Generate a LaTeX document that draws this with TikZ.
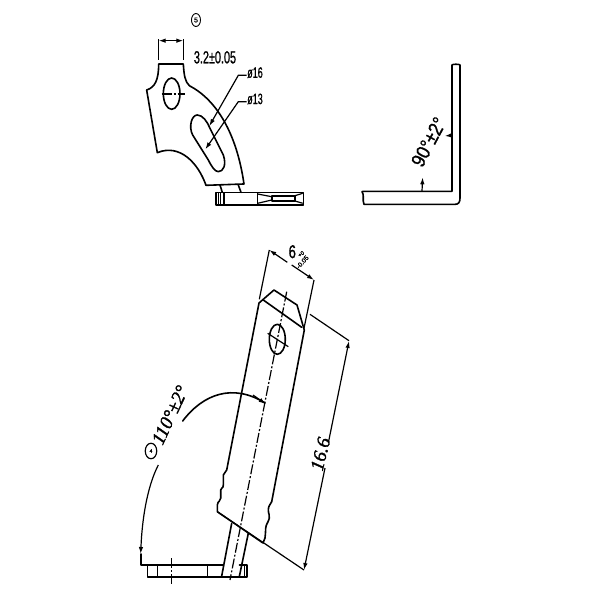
\documentclass[tikz,border=0pt]{standalone}
\usepackage{fontspec}
\setmainfont{Liberation Sans}[RawFeature={embolden=1.2}]
\newfontfamily\serifit{Liberation Serif Italic}[RawFeature={embolden=1.6}]
\usetikzlibrary{arrows.meta,shapes.geometric}
\tikzset{
 ln/.style={line width=1.6pt,black,line join=round,line cap=round},
 thin line/.style={line width=1.2pt,black},
 cen/.style={line width=1.2pt,black,dash pattern=on 10pt off 2pt on 2pt off 2pt},
 dim/.style={line width=1.2pt,black,-{Latex[length=7pt,width=4.5pt]}},
 dimb/.style={line width=1.2pt,black,{Latex[length=7pt,width=4.5pt]}-{Latex[length=7pt,width=4.5pt]}},
 lab/.style={inner sep=0pt,black},
 zoomA/.style={shift={(120pt,0pt)},x=0.3333pt,y=-0.3333pt},
 zoomB/.style={shift={(350pt,-50pt)},x=0.3333pt,y=-0.3333pt},
}
\begin{document}
\begin{tikzpicture}[x=1pt,y=-1pt]
\useasboundingbox (0,0) rectangle (600,600);
\fill[white] (0,0) rectangle (600,600);
% top left view
\begin{scope}[zoomA]
\draw[ln] (116,192) -- (190,192) .. controls (192,225) and (195,245) .. (208,257)
  .. controls (290,300) and (350,400) .. (372,552) -- (258,556)
  .. controls (235,490) and (180,430) .. (112,458) -- (80,270)
  .. controls (105,262) and (116,240) .. (116,192) -- cycle;
\draw[ln] (155,281) ellipse [x radius=25,y radius=47];
\draw[cen] (125,282) -- (195,282);
\draw[ln] (218,405) .. controls (205,380) and (215,345) .. (232,345)
  .. controls (248,345) and (262,365) .. (270,385) -- (310,465)
  .. controls (320,495) and (310,515) .. (295,515)
  .. controls (285,515) and (275,500) .. (265,480) -- cycle;
\draw[thin line] (116,180) -- (116,118);
\draw[thin line] (190,180) -- (190,118);
\draw[dimb] (116,122) -- (190,122);
\node[lab,draw,ellipse,line width=0.9pt,minimum width=9pt,minimum height=13pt,font=\fontsize{7}{7}\selectfont] (mark5) at (228,60) {5};
\node[lab,xscale=.62,font=\fontsize{17.5}{18}\selectfont] (tol) at (285,172) {3.2±0.05};
\node[lab,xscale=.6,font=\fontsize{15}{15}\selectfont] (d16) at (405,218) {ø16};
\node[lab,xscale=.6,font=\fontsize{15}{15}\selectfont] (d13) at (405,297) {ø13};
\draw[dim] (380,226) -- (355,226) -- (268,378);
\draw[dim] (380,305) -- (355,305) -- (256,448);
\end{scope}
% side strip under the top-left view
\draw[ln] (220,185) -- (222.3,192.3);
\draw[ln] (238.3,185) -- (241,192.3);
\draw[ln] (216,192.3) rectangle (303.3,205);
\draw[thin line] (218.3,192.3) -- (218.3,205) (220.7,192.3) -- (220.7,205) (224,192.3) -- (224,205);
\draw[thin line] (257.7,192.3) -- (257.7,205);
\draw[thin line] (257.7,194) -- (271.7,196.7) -- (271.7,200) -- (257.7,203.3);
\draw[ln] (271.7,195.7) -- (295,195.7) -- (295,201) -- (271.7,201) -- cycle;
\draw[thin line] (295,195.7) -- (302.7,193.3) (295,201) -- (302.7,203.3);
% top right view
\begin{scope}[zoomB]
\draw[ln] (40,424) -- (306,424) -- (306,45) .. controls (306,42) and (330,42) .. (330,45)
  -- (330,445) .. controls (330,458) and (325,463) .. (315,463) -- (42,463)
  .. controls (36,450) and (44,435) .. (36,425) -- (40,424);
\draw[dim] (216,424) -- (218,382);
\draw[dim] (306,256) -- (284,258);
\node[lab,rotate=62,xscale=.87,font=\fontsize{20}{20}\selectfont] (ang90) at (236,276) {90°±2°};
\end{scope}
% lower view: bent tab
\draw[ln] (259,303) -- (274,290) -- (297,305) -- (304.3,330) -- (271.7,501.7)
  .. controls (270,505) and (268.3,506) .. (268.3,510)
  .. controls (268.3,514) and (270,515) .. (269.3,518.3)
  .. controls (268,523) and (266,524) .. (265.7,528.3)
  .. controls (265.4,532) and (265.5,535) .. (265,538) -- (263,543) -- (217.3,511.7) -- (217.3,505)
  .. controls (218,500) and (220.7,502) .. (220.7,498.3) -- (220.7,490)
  .. controls (221,487) and (223.3,489) .. (223.3,485) -- (223.3,475)
  .. controls (224,472) and (226,473) .. (226.7,470) -- cycle;
\draw[ln] (263.3,300) -- (301.7,327.3);
\draw[ln] (277.3,339.3) ellipse [x radius=8,y radius=15];
\draw[cen] (286.7,291.7) -- (230,580);
\draw[thin line] (267.7,333.3) -- (288.3,346.7);
\draw[thin line] (259.3,299.3) -- (269.3,250);
\draw[thin line] (314,280) -- (304,328.3);
\draw[thin line] (310,314.3) -- (349,340.7);
\draw[dim] (287.3,262.3) -- (269.3,250);
\draw[dim] (291.7,265) -- (314,280);
\node[lab,xscale=.7,font=\fontsize{18.5}{18.5}\selectfont] (six) at (292.3,251.7) {6};
\node[lab,rotate=35,font=\fontsize{5.5}{5.5}\selectfont] (sixplus) at (301,254) {+0};
\node[lab,rotate=48,font=\fontsize{6.5}{6.5}\selectfont] (sixminus) at (302.5,262) {-0.05};
% stem below the break and the base
\draw[ln] (231.7,523.3) -- (221.7,576);
\draw[ln] (248.3,533.3) -- (239.3,576.7);
\draw[ln] (147.3,565) -- (223,565);
\draw[ln] (239.5,565) -- (246.7,565) -- (246.7,576.7) -- (147.3,576.7) -- (147.3,565);
\draw[thin line] (157.7,565) -- (157.7,576.7) (207.7,565) -- (207.7,576.7);
\draw[thin line] (244.3,565) -- (244.3,576.7);
\draw[cen] (171.7,558) -- (171.7,584);
% 110 degree angle
\draw[ln] (182.7,421) .. controls (203,394) and (233,383) .. (265,403);
\draw[dim] (253,395) -- (265.7,404);
\draw[dim] (158.3,465) .. controls (147,487) and (142,520) .. (140.7,554);
\draw[ln] (140.7,554) -- (140.7,565) -- (147.3,565);
\node[lab,draw,ellipse,line width=1.2pt,minimum width=11.5pt,minimum height=15.5pt,font=\fontsize{5}{5}\selectfont] (mark4) at (151,451) {4};
\node[lab,rotate=65,font=\serifit\fontsize{19}{19}\selectfont] (ang110) at (170,415) {110°±2°};
% 16.6 length
\draw[thin line] (217.3,511.7) -- (304,570);
\draw[dim] (328.3,443) -- (349,341);
\draw[dim] (325,468) -- (304,570);
\node[lab,rotate=76,font=\serifit\fontsize{19}{19}\selectfont] (len) at (320.5,454) {16.6};
\end{tikzpicture}
\end{document}
